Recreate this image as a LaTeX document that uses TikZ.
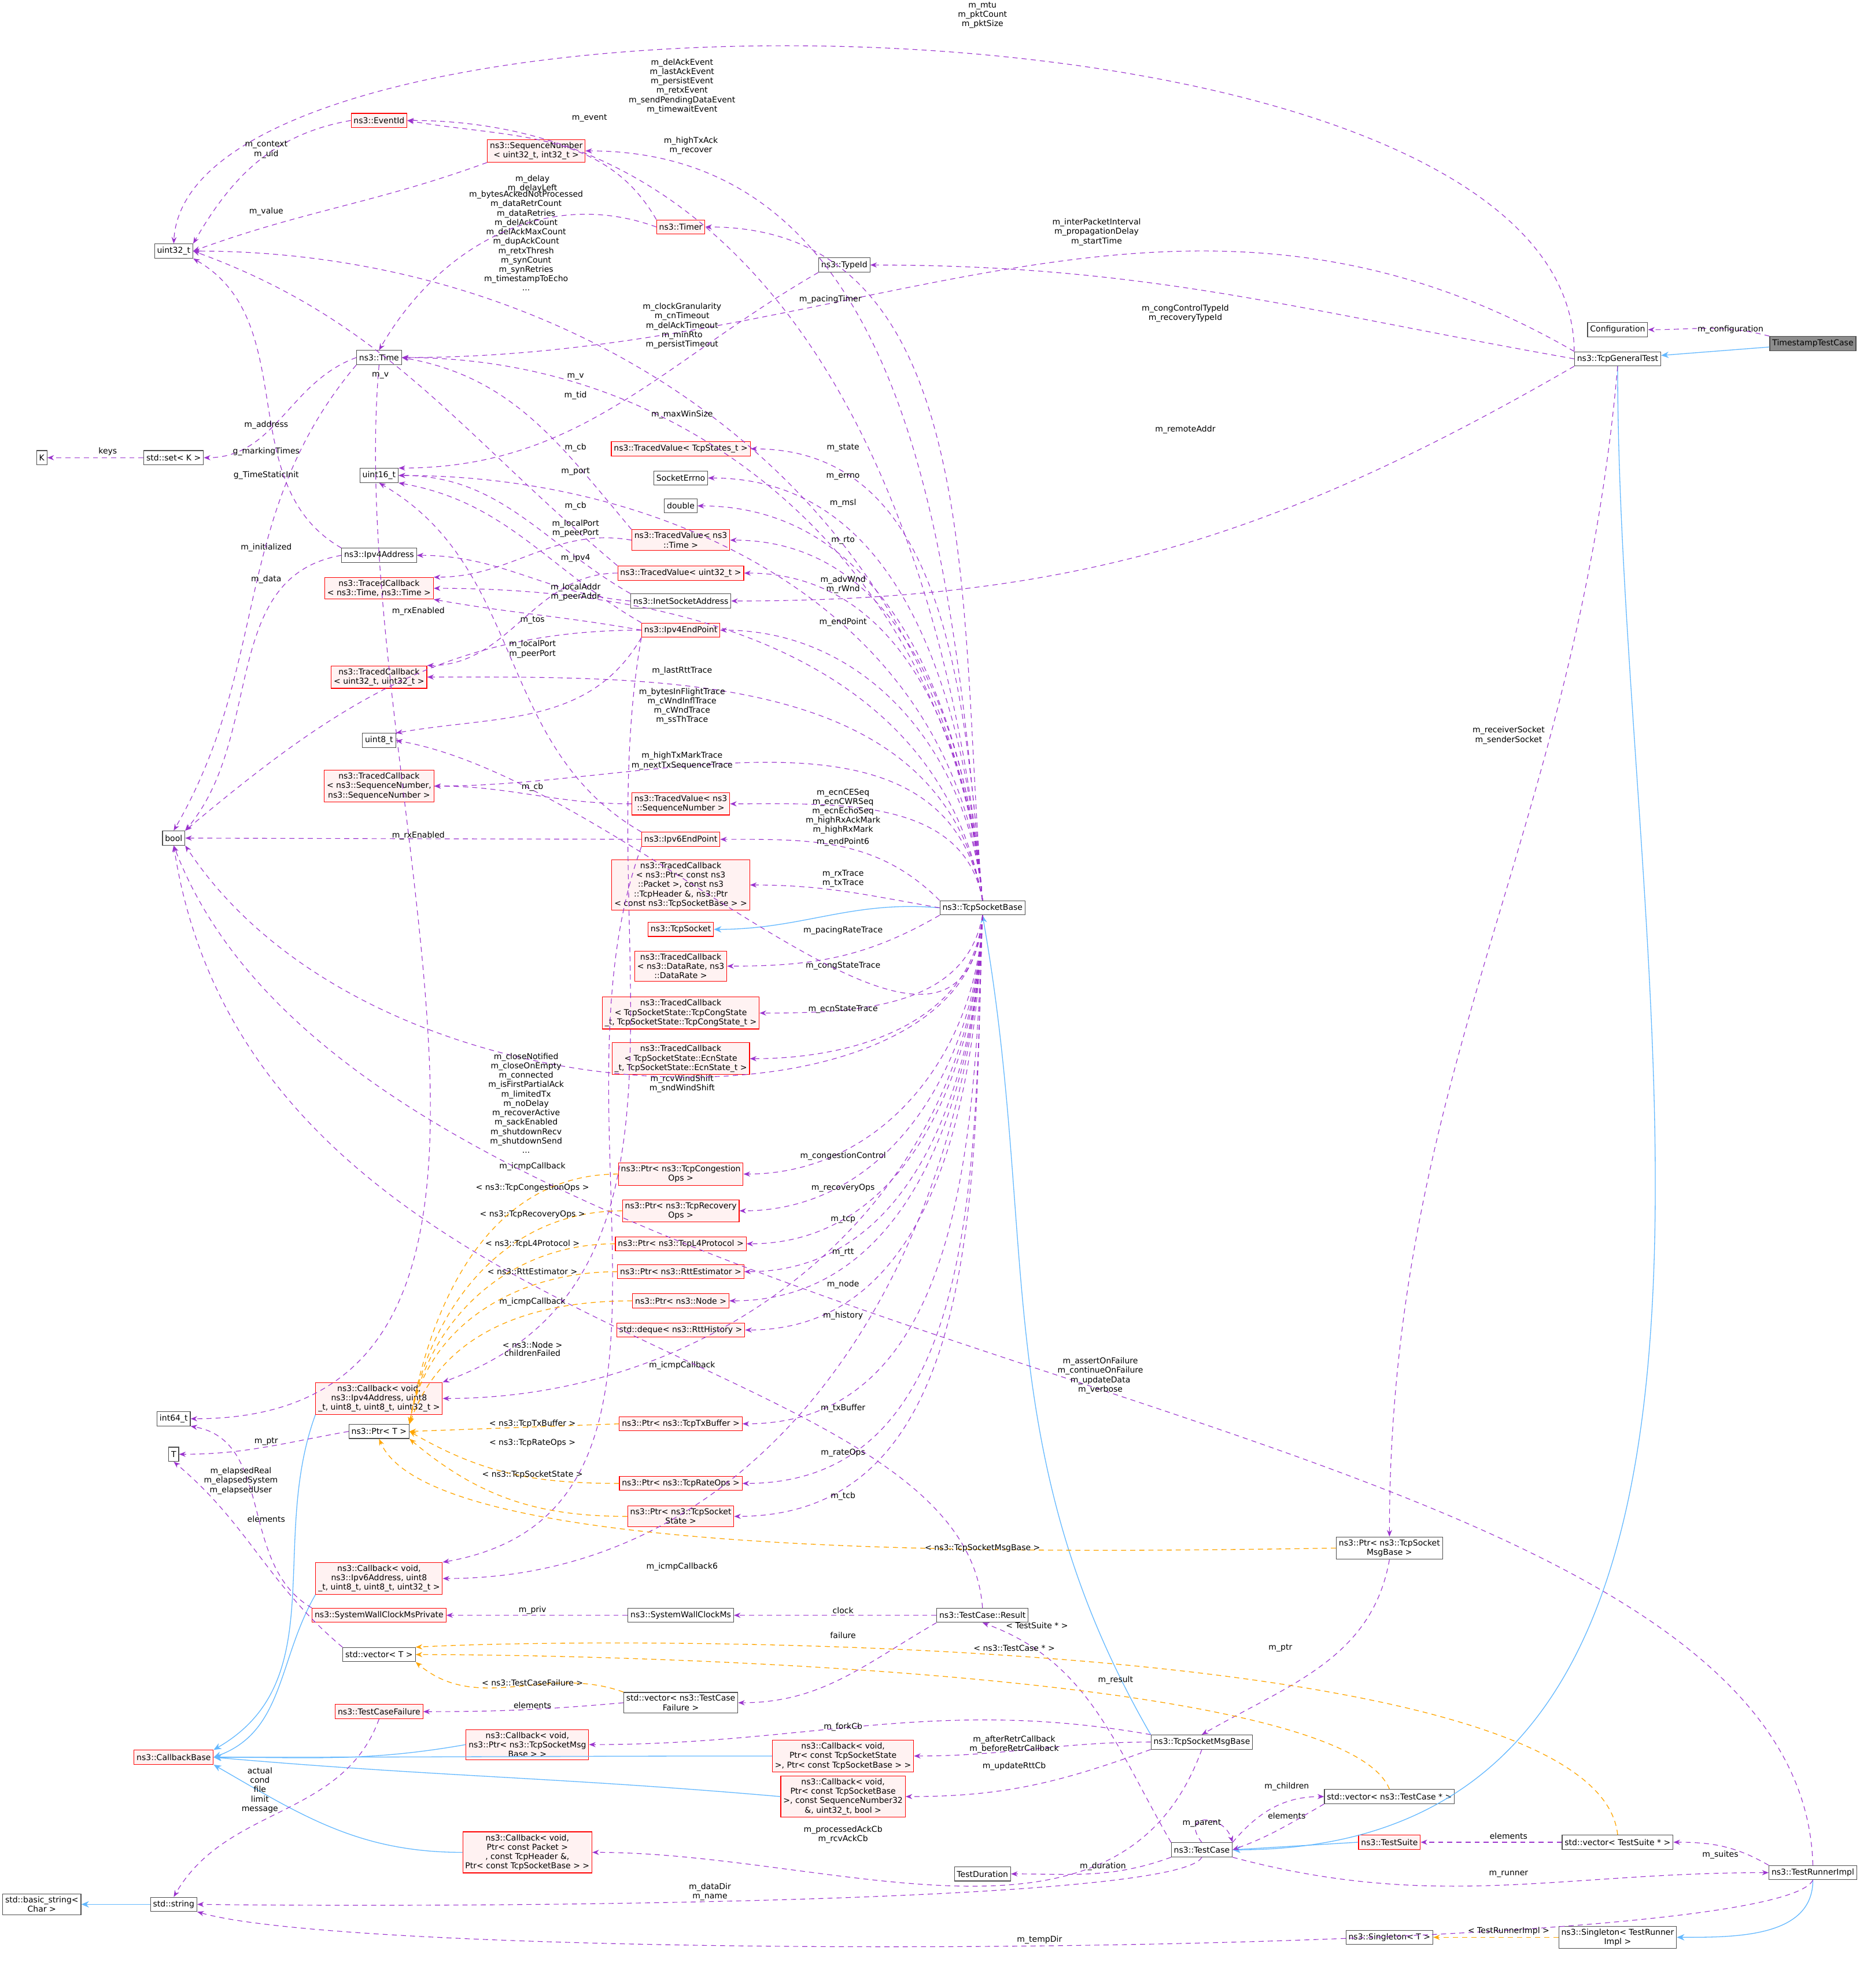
\documentclass[tikz,border=0pt]{standalone}
\usepackage{fontspec}
\setmainfont{DejaVu Sans}
\usetikzlibrary{arrows.meta}
\definecolor{mcol}{HTML}{9A32CD}
\definecolor{icol}{HTML}{63B8FF}
\definecolor{tcol}{HTML}{FFA500}
\newcommand{\fsz}{\fontsize{1.6}{1.85}\selectfont}
\tikzset{
 box/.style={draw=black!70, fill=white, font=\fsz, align=center, inner sep=0.5pt, minimum height=2.8pt, line width=0.13pt},
 rbox/.style={box, draw=red, fill=red!5},
 gbox/.style={box, fill=black!45},
 mem/.style={draw=mcol, dash pattern=on 1pt off 0.8pt, line width=0.13pt, -{Stealth[length=1.3pt,width=1pt]}},
 inh/.style={draw=icol, line width=0.15pt, -{Stealth[length=1.5pt,width=1.25pt]}},
 tmpl/.style={draw=tcol, dash pattern=on 1pt off 0.8pt, line width=0.15pt, -{Stealth[length=1.3pt,width=1pt]}},
 lbl/.style={font=\fsz, align=center, inner sep=0pt}
}
\begin{document}
\begin{tikzpicture}[x=0.25pt,y=0.25pt]
\useasboundingbox (0,0) rectangle (1467,-1568);
% nodes
\node[gbox] (ttc) at (1430,-271) {TimestampTestCase};
\node[box] (conf) at (1276,-260) {Configuration};
\node[box] (tgt) at (1276,-283) {ns3::TcpGeneralTest};
\node[box] (tsb) at (775,-716) {ns3::TcpSocketBase};
\node[box] (u32) at (137,-198) {uint32\_t};
\node[rbox] (eid) at (299,-95) {ns3::EventId};
\node[rbox] (seq) at (423,-119) {ns3::SequenceNumber\\< uint32\_t, int32\_t >};
\node[rbox] (timer) at (537,-179) {ns3::Timer};
\node[box] (tid) at (666,-209) {ns3::TypeId};
\node[box] (time) at (299,-282) {ns3::Time};
\node[box] (K) at (33,-361) {K};
\node[box] (set) at (137,-361) {std::set< K >};
\node[box] (u16) at (299,-375) {uint16\_t};
\node[rbox] (tvst) at (537,-354) {ns3::TracedValue< TcpStates\_t >};
\node[box] (serr) at (537,-377) {SocketErrno};
\node[box] (dbl) at (537,-399) {double};
\node[rbox] (tvtime) at (537,-426) {ns3::TracedValue< ns3\\::Time >};
\node[box] (ip4) at (299,-438) {ns3::Ipv4Address};
\node[rbox] (tctt) at (299,-464) {ns3::TracedCallback\\< ns3::Time, ns3::Time >};
\node[rbox] (tvu32) at (537,-452) {ns3::TracedValue< uint32\_t >};
\node[box] (inet) at (537,-474) {ns3::InetSocketAddress};
\node[rbox] (ep4) at (537,-497) {ns3::Ipv4EndPoint};
\node[box] (bool) at (137,-661) {bool};
\node[rbox] (tcuu) at (299,-534) {ns3::TracedCallback\\< uint32\_t, uint32\_t >};
\node[box] (u8) at (299,-584) {uint8\_t};
\node[rbox] (tcss) at (299,-620) {ns3::TracedCallback\\< ns3::SequenceNumber,\\ ns3::SequenceNumber >};
\node[rbox] (tvseq) at (537,-634) {ns3::TracedValue< ns3\\::SequenceNumber >};
\node[rbox] (ep6) at (537,-662) {ns3::Ipv6EndPoint};
\node[rbox] (tcpk) at (537,-698) {ns3::TracedCallback\\< ns3::Ptr< const ns3\\::Packet >, const ns3\\::TcpHeader \&, ns3::Ptr\\< const ns3::TcpSocketBase > >};
\node[rbox] (tsock) at (537,-733) {ns3::TcpSocket};
\node[rbox] (tcdr) at (537,-762) {ns3::TracedCallback\\< ns3::DataRate, ns3\\::DataRate >};
\node[rbox] (tccs) at (537,-799) {ns3::TracedCallback\\< TcpSocketState::TcpCongState\\\_t, TcpSocketState::TcpCongState\_t >};
\node[rbox] (tcen) at (537,-835) {ns3::TracedCallback\\< TcpSocketState::EcnState\\\_t, TcpSocketState::EcnState\_t >};
\node[rbox] (pcong) at (537,-926) {ns3::Ptr< ns3::TcpCongestion\\Ops >};
\node[rbox] (prec) at (537,-955) {ns3::Ptr< ns3::TcpRecovery\\Ops >};
\node[rbox] (pl4) at (537,-981) {ns3::Ptr< ns3::TcpL4Protocol >};
\node[rbox] (prtt) at (537,-1003) {ns3::Ptr< ns3::RttEstimator >};
\node[rbox] (pnode) at (537,-1026) {ns3::Ptr< ns3::Node >};
\node[rbox] (deq) at (537,-1049) {std::deque< ns3::RttHistory >};
\node[rbox] (ptx) at (537,-1123) {ns3::Ptr< ns3::TcpTxBuffer >};
\node[rbox] (prate) at (537,-1170) {ns3::Ptr< ns3::TcpRateOps >};
\node[rbox] (ptcb) at (537,-1196) {ns3::Ptr< ns3::TcpSocket\\State >};
\node[rbox] (cb4) at (299,-1103) {ns3::Callback< void,\\ ns3::Ipv4Address, uint8\\\_t, uint8\_t, uint8\_t, uint32\_t >};
\node[box] (ptrT) at (299,-1129) {ns3::Ptr< T >};
\node[box] (i64) at (137,-1119) {int64\_t};
\node[box] (T) at (137,-1147) {T};
\node[rbox] (cb6) at (299,-1245) {ns3::Callback< void,\\ ns3::Ipv6Address, uint8\\\_t, uint8\_t, uint8\_t, uint32\_t >};
\node[rbox] (swp) at (299,-1274) {ns3::SystemWallClockMsPrivate};
\node[box] (swc) at (537,-1274) {ns3::SystemWallClockMs};
\node[box] (res) at (775,-1274) {ns3::TestCase::Result};
\node[box] (vecT) at (299,-1305) {std::vector< T >};
\node[box] (vecf) at (537,-1343) {std::vector< ns3::TestCase\\Failure >};
\node[rbox] (tcf) at (299,-1350) {ns3::TestCaseFailure};
\node[rbox] (cbb) at (137,-1386) {ns3::CallbackBase};
\node[rbox] (cbmsg) at (416,-1376) {ns3::Callback< void,\\ ns3::Ptr< ns3::TcpSocketMsg\\Base > >};
\node[rbox] (cbar) at (665,-1385) {ns3::Callback< void,\\ Ptr< const TcpSocketState\\ >, Ptr< const TcpSocketBase > >};
\node[rbox] (cbur) at (665,-1417) {ns3::Callback< void,\\ Ptr< const TcpSocketBase\\ >, const SequenceNumber32\\ \&, uint32\_t, bool >};
\node[rbox] (cbpa) at (416,-1461) {ns3::Callback< void,\\ Ptr< const Packet >\\, const TcpHeader \&,\\ Ptr< const TcpSocketBase > >};
\node[box] (msg) at (948,-1374) {ns3::TcpSocketMsgBase};
\node[box] (pmsg) at (1096,-1221) {ns3::Ptr< ns3::TcpSocket\\MsgBase >};
\node[box] (vtc) at (1096,-1417) {std::vector< ns3::TestCase * >};
\node[rbox] (suite) at (1096,-1453) {ns3::TestSuite};
\node[box] (vts) at (1276,-1453) {std::vector< TestSuite * >};
\node[box] (tc) at (948,-1459) {ns3::TestCase};
\node[box] (tdur) at (775,-1478) {TestDuration};
\node[box] (tri) at (1430,-1477) {ns3::TestRunnerImpl};
\node[box] (bstr) at (33,-1502) {std::basic\_string<\\ Char >};
\node[box] (str) at (137,-1502) {std::string};
\node[box] (sgT) at (1096,-1528) {ns3::Singleton< T >};
\node[box] (sgR) at (1276,-1528) {ns3::Singleton< TestRunner\\Impl >};

% inheritance
\draw[inh] (ttc) -- (tgt);
\draw[inh] (tgt.south) to[out=-90,in=0] (tc.east);
\draw[inh] (msg.north west) to[out=120,in=-80] (tsb.south);
\draw[inh] (tsb.west) to[out=175,in=0] (tsock.east);
\draw[inh] (suite.west) -- (tc.east);
\draw[inh] (tri.south) to[out=-90,in=0] (sgR.east);
\draw[inh] (str) -- (bstr);
\draw[inh] (cb4.south west) to[out=-110,in=30] (cbb.north east);
\draw[inh] (cb6.south west) to[out=-120,in=20] (cbb.east);
\draw[inh] (cbmsg.west) to[out=190,in=0] (cbb.east);
\draw[inh] (cbar.west) to[out=180,in=0] (cbb.east);
\draw[inh] (cbur.west) to[out=175,in=-5] (cbb.east);
\draw[inh] (cbpa.west) to[out=180,in=-30] (cbb.south east);

% TcpGeneralTest
\draw[mem] (ttc.north west) to[out=165,in=0] (conf.east);
\node[lbl] (l1) at (1365,-260) {m\_configuration};
\draw[mem] (tgt.north west) .. controls (1240,25) and (150,30) .. (u32.north);
\node[lbl] (l2) at (775,-12) {m\_mtu\\m\_pktCount\\m\_pktSize};
\draw[mem] (tgt.north west) to[out=150,in=0] (time.east);
\node[lbl] (l3) at (865,-183) {m\_interPacketInterval\\m\_propagationDelay\\m\_startTime};
\draw[mem] (tgt.west) to[out=170,in=0] (tid.east);
\node[lbl] (l4) at (935,-247) {m\_congControlTypeId\\m\_recoveryTypeId};
\draw[mem] (tgt.south west) to[out=-150,in=0] (inet.east);
\node[lbl] (l5) at (935,-339) {m\_remoteAddr};
\draw[mem] (tgt.south) to[out=-95,in=90] (pmsg.north);
\node[lbl] (l6) at (1190,-580) {m\_receiverSocket\\m\_senderSocket};

% TcpSocketBase members above
\draw[mem] (tsb.north) to[out=95,in=0] (eid.east);
\node[lbl] (m1) at (538,-68) {m\_delAckEvent\\m\_lastAckEvent\\m\_persistEvent\\m\_retxEvent\\m\_sendPendingDataEvent\\m\_timewaitEvent};
\draw[mem] (tsb.north) to[out=95,in=0] (seq.east);
\node[lbl] (m2) at (545,-115) {m\_highTxAck\\m\_recover};
\draw[mem] (tsb.north) to[out=95,in=0] (u32.east);
\node[lbl] (m3) at (415,-190) {m\_bytesAckedNotProcessed\\m\_dataRetrCount\\m\_dataRetries\\m\_delAckCount\\m\_delAckMaxCount\\m\_dupAckCount\\m\_retxThresh\\m\_synCount\\m\_synRetries\\m\_timestampToEcho\\...};
\draw[mem] (tsb.north) to[out=95,in=0] (timer.east);
\node[lbl] (m4) at (655,-236) {m\_pacingTimer};
\draw[mem] (tsb.north) to[out=95,in=0] (time.east);
\node[lbl] (m5) at (538,-257) {m\_clockGranularity\\m\_cnTimeout\\m\_delAckTimeout\\m\_minRto\\m\_persistTimeout};
\draw[mem] (tsb.north) to[out=95,in=0] (u16.east);
\node[lbl] (m6) at (538,-327) {m\_maxWinSize};
\draw[mem] (tsb.north) to[out=95,in=0] (tvst.east);
\node[lbl] (m7) at (665,-353) {m\_state};
\draw[mem] (tsb.north) to[out=95,in=0] (serr.east);
\node[lbl] (m8) at (665,-376) {m\_errno};
\draw[mem] (tsb.north) to[out=95,in=0] (dbl.east);
\node[lbl] (m9) at (665,-397) {m\_msl};
\draw[mem] (tsb.north) to[out=95,in=0] (tvtime.east);
\node[lbl] (m10) at (665,-426) {m\_rto};
\draw[mem] (tsb.north) to[out=95,in=0] (tvu32.east);
\node[lbl] (m11) at (665,-461) {m\_advWnd\\m\_rWnd};
\draw[mem] (tsb.north) to[out=95,in=0] (ep4.east);
\node[lbl] (m12) at (665,-491) {m\_endPoint};
\draw[mem] (tsb.north) to[out=100,in=0] (tctt.east);
\node[lbl] (m13) at (538,-529) {m\_lastRttTrace};
\draw[mem] (tsb.north) to[out=100,in=0] (tcuu.east);
\node[lbl] (m14) at (538,-557) {m\_bytesInFlightTrace\\m\_cWndInflTrace\\m\_cWndTrace\\m\_ssThTrace};
\draw[mem] (tsb.north) to[out=100,in=0] (tcss.east);
\node[lbl] (m15) at (538,-600) {m\_highTxMarkTrace\\m\_nextTxSequenceTrace};
\draw[mem] (tsb.north) to[out=100,in=0] (tvseq.east);
\node[lbl] (m16) at (665,-640) {m\_ecnCESeq\\m\_ecnCWRSeq\\m\_ecnEchoSeq\\m\_highRxAckMark\\m\_highRxMark};
\draw[mem] (tsb.north west) to[out=135,in=0] (ep6.east);
\node[lbl] (m17) at (665,-664) {m\_endPoint6};
\draw[mem] (tsb.west) to[out=170,in=0] (tcpk.east);
\node[lbl] (m18) at (665,-693) {m\_rxTrace\\m\_txTrace};
\draw[mem] (tsb.south west) to[out=-150,in=0] (tcdr.east);
\node[lbl] (m19) at (665,-734) {m\_pacingRateTrace};
\draw[mem] (tsb.south) to[out=-100,in=0] (tccs.east);
\node[lbl] (m20) at (665,-762) {m\_congStateTrace};
\draw[mem] (tsb.south) to[out=-95,in=0] (tcen.east);
\node[lbl] (m21) at (665,-796) {m\_ecnStateTrace};
\draw[mem] (tsb.south) to[out=-95,in=-10] (u8.east);
\node[lbl] (m22) at (538,-855) {m\_rcvWindShift\\m\_sndWindShift};
\draw[mem] (tsb.south) .. controls (770,-900) and (300,-900) .. (bool.south east);
\node[lbl] (m23) at (415,-870) {m\_closeNotified\\m\_closeOnEmpty\\m\_connected\\m\_isFirstPartialAck\\m\_limitedTx\\m\_noDelay\\m\_recoverActive\\m\_sackEnabled\\m\_shutdownRecv\\m\_shutdownSend\\...};
\draw[mem] (tsb.south) to[out=-92,in=0] (pcong.east);
\node[lbl] (m24) at (665,-912) {m\_congestionControl};
\draw[mem] (tsb.south) to[out=-92,in=0] (prec.east);
\node[lbl] (m25) at (665,-937) {m\_recoveryOps};
\draw[mem] (tsb.south) to[out=-92,in=0] (pl4.east);
\node[lbl] (m26) at (665,-962) {m\_tcp};
\draw[mem] (tsb.south) to[out=-92,in=0] (prtt.east);
\node[lbl] (m27) at (665,-988) {m\_rtt};
\draw[mem] (tsb.south) to[out=-92,in=0] (pnode.east);
\node[lbl] (m28) at (665,-1013) {m\_node};
\draw[mem] (tsb.south) to[out=-92,in=0] (deq.east);
\node[lbl] (m29) at (665,-1038) {m\_history};
\draw[mem] (tsb.south) to[out=-92,in=0] (cb4.east);
\node[lbl] (m30) at (538,-1077) {m\_icmpCallback};
\draw[mem] (tsb.south) to[out=-92,in=0] (ptx.east);
\node[lbl] (m31) at (665,-1111) {m\_txBuffer};
\draw[mem] (tsb.south) to[out=-92,in=0] (prate.east);
\node[lbl] (m32) at (665,-1146) {m\_rateOps};
\draw[mem] (tsb.south) to[out=-92,in=0] (ptcb.east);
\node[lbl] (m33) at (665,-1180) {m\_tcb};
\draw[mem] (tsb.south) to[out=-92,in=0] (cb6.east);
\node[lbl] (m34) at (538,-1236) {m\_icmpCallback6};

% other members
\draw[mem] (eid.west) to[out=190,in=60] (u32.north east);
\node[lbl] (o1) at (210,-118) {m\_context\\m\_uid};
\draw[mem] (seq.south west) to[out=200,in=20] (u32.east);
\node[lbl] (o2) at (210,-167) {m\_value};
\draw[mem] (timer.north west) to[out=120,in=-10] (eid.east);
\node[lbl] (o3) at (465,-93) {m\_event};
\draw[mem] (timer.west) to[out=160,in=60] (time.north);
\node[lbl] (o4) at (420,-145) {m\_delay\\m\_delayLeft};
\draw[mem] (time.west) to[out=200,in=0] (set.east);
\node[lbl] (o5) at (210,-356) {g\_markingTimes};
\draw[mem] (time.south west) to[out=-130,in=60] (bool.north);
\node[lbl] (o6) at (210,-375) {g\_TimeStaticInit};
\draw[mem] (time.south) to[out=-95,in=0] (i64.east);
\node[lbl] (o7) at (210,-457) {m\_data};
\draw[mem] (set.west) -- (K.east);
\node[lbl] (o8) at (85,-356) {keys};
\draw[mem] (ip4.north west) to[out=150,in=-30] (u32.south east);
\node[lbl] (o9) at (210,-335) {m\_address};
\draw[mem] (ip4.west) to[out=190,in=50] (bool.north east);
\node[lbl] (o10) at (210,-432) {m\_initialized};
\draw[mem] (tid.south west) to[out=-150,in=0] (u16.north east);
\node[lbl] (o11) at (454,-312) {m\_tid};
\draw[mem] (tvu32.north west) to[out=140,in=-20] (u32.east);
\node[lbl] (o12) at (300,-296) {m\_v};
\draw[mem] (tvtime.north west) to[out=130,in=-10] (time.east);
\node[lbl] (o13) at (454,-297) {m\_v};
\draw[mem] (tvtime.west) to[out=170,in=0] (tctt.north east);
\node[lbl] (o14) at (454,-353) {m\_cb};
\draw[mem] (inet.north west) to[out=150,in=0] (u16.east);
\node[lbl] (o15) at (454,-372) {m\_port};
\draw[mem] (inet.west) to[out=175,in=0] (ip4.east);
\node[lbl] (o16) at (454,-440) {m\_ipv4};
\draw[mem] (tvu32.west) to[out=180,in=0] (tcuu.north east);
\node[lbl] (o17) at (454,-399) {m\_cb};
\draw[mem] (ep4.north west) to[out=150,in=-10] (u16.south east);
\node[lbl] (o18) at (454,-417) {m\_localPort\\m\_peerPort};
\draw[mem] (ep4.west) to[out=170,in=-10] (tctt.south east);
\node[lbl] (o19) at (454,-467) {m\_localAddr\\m\_peerAddr};
\draw[mem] (ep4.west) to[out=180,in=40] (bool.north east);
\node[lbl] (o20) at (330,-482) {m\_rxEnabled};
\draw[mem] (ep4.south west) to[out=-120,in=10] (u8.north east);
\node[lbl] (o21) at (420,-489) {m\_tos};
\draw[mem] (ep4.south west) to[out=-100,in=20] (cb4.north east);
\node[lbl] (o22) at (420,-920) {m\_icmpCallback};
\draw[mem] (ep6.north west) to[out=150,in=-30] (u16.south);
\node[lbl] (o23) at (420,-512) {m\_localPort\\m\_peerPort};
\draw[mem] (ep6.west) -- (bool.east);
\node[lbl] (o24) at (330,-659) {m\_rxEnabled};
\draw[mem] (ep6.south west) to[out=-110,in=10] (cb6.north east);
\node[lbl] (o25) at (420,-1027) {m\_icmpCallback};
\draw[mem] (tvseq.west) to[out=180,in=0] (tcss.east);
\node[lbl] (o26) at (420,-621) {m\_cb};
\draw[mem] (ptrT.west) to[out=190,in=0] (T.east);
\node[lbl] (o27) at (210,-1137) {m\_ptr};
\draw[mem] (swp.north west) to[out=150,in=-10] (i64.south east);
\node[lbl] (o28) at (190,-1168) {m\_elapsedReal\\m\_elapsedSystem\\m\_elapsedUser};
\draw[mem] (swc) -- (swp);
\node[lbl] (o29) at (420,-1270) {m\_priv};
\draw[mem] (res) -- (swc);
\node[lbl] (o30) at (665,-1270) {clock};
\draw[mem] (res.south west) to[out=-150,in=0] (vecf.east);
\node[lbl] (o31) at (665,-1290) {failure};
\draw[mem] (res.north) .. controls (760,-1060) and (200,-1070) .. (bool.south);
\node[lbl] (o32) at (420,-1067) {childrenFailed};
\draw[mem] (vecT.north west) to[out=140,in=-40] (T.south);
\node[lbl] (o33) at (210,-1198) {elements};
\draw[mem] (vecf.west) to[out=185,in=0] (tcf.east);
\node[lbl] (o34) at (420,-1345) {elements};
\draw[mem] (tcf.south) to[out=-110,in=60] (str.north);
\node[lbl] (o35) at (205,-1412) {actual\\cond\\file\\limit\\message};
\draw[mem] (msg.north west) to[out=170,in=0] (cbmsg.east);
\node[lbl] (o36) at (665,-1362) {m\_forkCb};
\draw[mem] (msg.west) to[out=180,in=0] (cbar.east);
\node[lbl] (o37) at (800,-1376) {m\_afterRetrCallback\\m\_beforeRetrCallback};
\draw[mem] (msg.south west) to[out=-160,in=0] (cbur.east);
\node[lbl] (o38) at (800,-1393) {m\_updateRttCb};
\draw[mem] (msg.south) to[out=-110,in=0] (cbpa.east);
\node[lbl] (o39) at (665,-1447) {m\_processedAckCb\\m\_rcvAckCb};
\draw[mem] (pmsg.south) to[out=-100,in=30] (msg.north);
\node[lbl] (o40) at (1010,-1300) {m\_ptr};
\draw[mem] (tc.north west) to[out=120,in=-20] (res.south);
\node[lbl] (o41) at (880,-1325) {m\_result};
\draw[mem] (tc.north east) to[out=50,in=180] (vtc.west);
\node[lbl] (o42) at (1015,-1409) {m\_children};
\draw[mem] (vtc.south west) to[out=-150,in=20] (tc.east);
\node[lbl] (o43) at (1015,-1432) {elements};
\draw[mem] (tc.north) .. controls (930,-1430) and (965,-1430) .. (tc.north east);
\node[lbl] (o44) at (948,-1438) {m\_parent};
\draw[mem] (vts.west) -- (suite.east);
\node[lbl] (o45) at (1190,-1448) {elements};
\draw[mem] (tri.north west) to[out=150,in=0] (vts.east);
\node[lbl] (o46) at (1357,-1463) {m\_suites};
\draw[mem] (tc.south east) to[out=-15,in=180] (tri.west);
\node[lbl] (o47) at (1190,-1478) {m\_runner};
\draw[mem] (tc.south west) to[out=-160,in=0] (tdur.east);
\node[lbl] (o48) at (870,-1472) {m\_duration};
\draw[mem] (tc.south) .. controls (930,-1500) and (400,-1505) .. (str.east);
\node[lbl] (o49) at (560,-1492) {m\_dataDir\\m\_name};
\draw[mem] (tri.south) .. controls (1400,-1545) and (300,-1550) .. (str.south east);
\node[lbl] (o50) at (820,-1530) {m\_tempDir};
\draw[mem] (tri.north) .. controls (1420,-1090) and (300,-1095) .. (bool.south);
\node[lbl] (o51) at (868,-1085) {m\_assertOnFailure\\m\_continueOnFailure\\m\_updateData\\m\_verbose};

% template instances
\draw[tmpl] (pcong.west) to[out=180,in=80] (ptrT.north east);
\node[lbl] (t1) at (420,-937) {< ns3::TcpCongestionOps >};
\draw[tmpl] (prec.west) to[out=180,in=80] (ptrT.north east);
\node[lbl] (t2) at (420,-958) {< ns3::TcpRecoveryOps >};
\draw[tmpl] (pl4.west) to[out=180,in=80] (ptrT.north east);
\node[lbl] (t3) at (420,-981) {< ns3::TcpL4Protocol >};
\draw[tmpl] (prtt.west) to[out=180,in=80] (ptrT.north east);
\node[lbl] (t4) at (420,-1003) {< ns3::RttEstimator >};
\draw[tmpl] (pnode.west) to[out=180,in=70] (ptrT.north east);
\node[lbl] (t5) at (420,-1061) {< ns3::Node >};
\draw[tmpl] (ptx.west) -- (ptrT.east);
\node[lbl] (t6) at (420,-1123) {< ns3::TcpTxBuffer >};
\draw[tmpl] (prate.west) to[out=180,in=-30] (ptrT.east);
\node[lbl] (t7) at (420,-1138) {< ns3::TcpRateOps >};
\draw[tmpl] (ptcb.west) to[out=180,in=-40] (ptrT.south east);
\node[lbl] (t8) at (420,-1163) {< ns3::TcpSocketState >};
\draw[tmpl] (pmsg.west) .. controls (800,-1225) and (340,-1230) .. (ptrT.south);
\node[lbl] (t9) at (775,-1221) {< ns3::TcpSocketMsgBase >};
\draw[tmpl] (vecf.north west) to[out=160,in=-40] (vecT.south east);
\node[lbl] (t10) at (420,-1327) {< ns3::TestCaseFailure >};
\draw[tmpl] (vtc.north) .. controls (1060,-1320) and (500,-1305) .. (vecT.east);
\node[lbl] (t11) at (800,-1300) {< ns3::TestCase * >};
\draw[tmpl] (vts.north) .. controls (1260,-1290) and (500,-1290) .. (vecT.north east);
\node[lbl] (t12) at (818,-1282) {< TestSuite * >};
\draw[tmpl] (sgR.west) -- (sgT.east);
\node[lbl] (t13) at (1190,-1523) {< TestRunnerImpl >};
\end{tikzpicture}
\end{document}
